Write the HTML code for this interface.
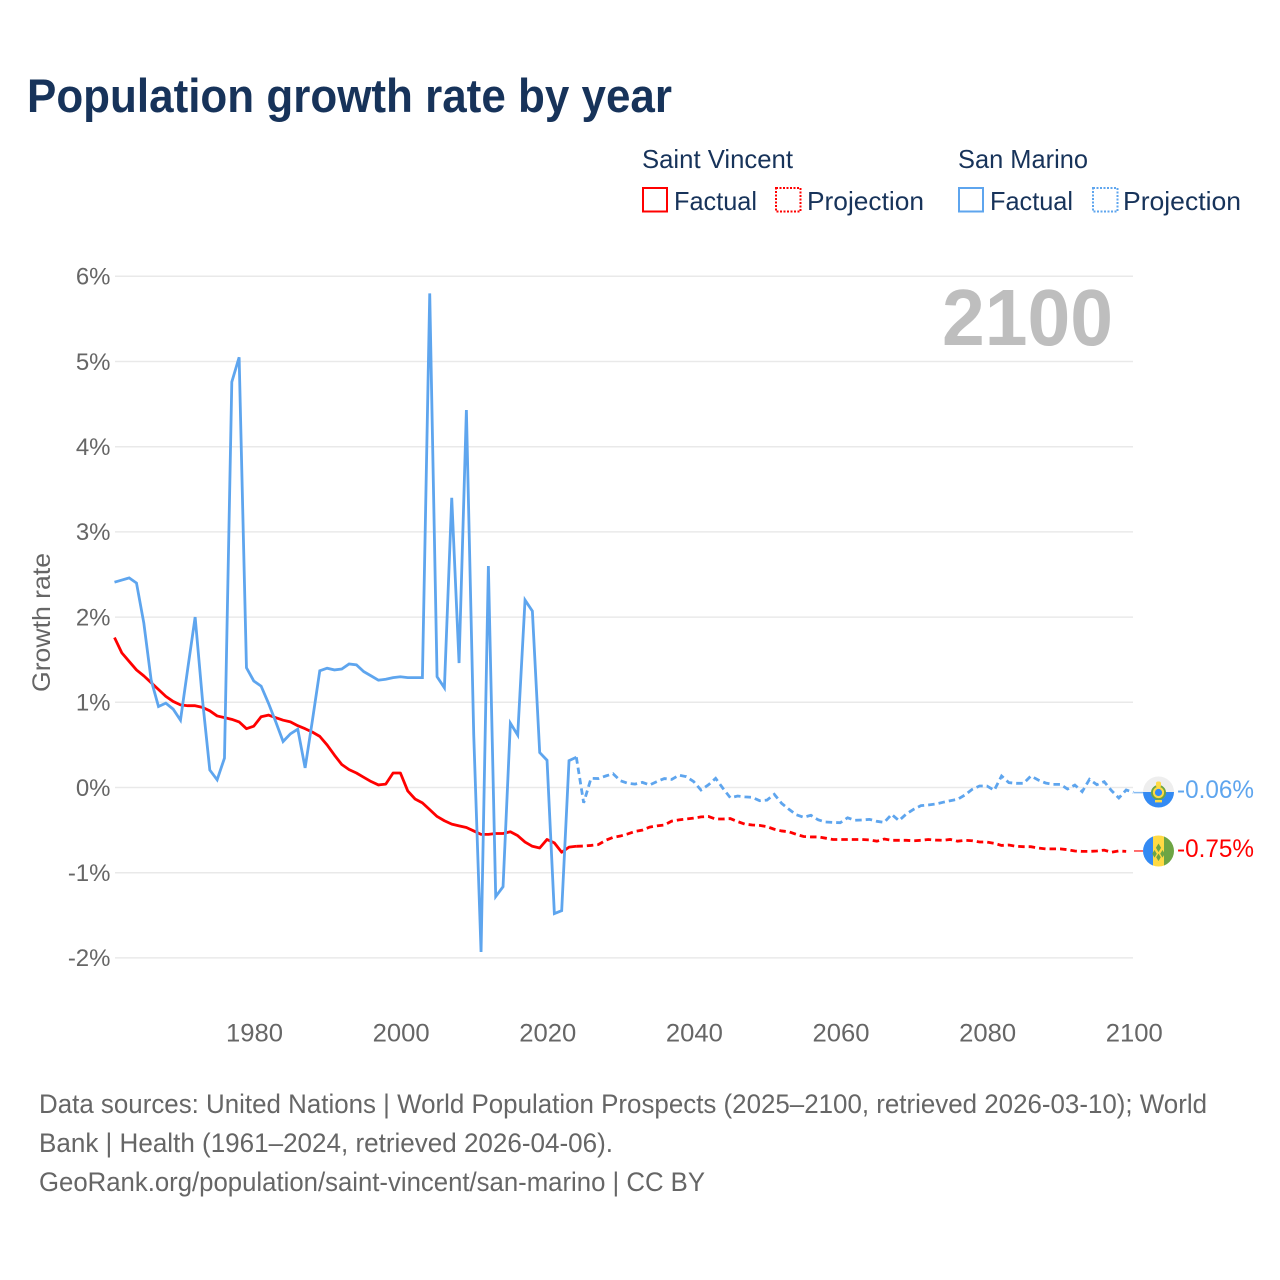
<!DOCTYPE html>
<html>
<head>
<meta charset="utf-8">
<title>Population growth rate by year</title>
<style>
html,body{margin:0;padding:0;background:#fff;width:1280px;height:1280px;overflow:hidden}
svg{display:block}
text{font-family:"Liberation Sans",sans-serif}
</style>
</head>
<body>
<svg id="chart" width="1280" height="1280" viewBox="0 0 1280 1280" xmlns="http://www.w3.org/2000/svg">
  <text x="27" y="112" font-size="47" font-weight="700" fill="#17335a" textLength="645" lengthAdjust="spacingAndGlyphs">Population growth rate by year</text>

  <g fill="#17335a" font-size="26">
    <text x="642" y="168" textLength="151" lengthAdjust="spacingAndGlyphs">Saint Vincent</text>
    <rect x="643" y="188" width="24" height="23.5" fill="none" stroke="#ff0000" stroke-width="2"/>
    <text x="674" y="210" textLength="83" lengthAdjust="spacingAndGlyphs">Factual</text>
    <rect x="776" y="188" width="24.5" height="23.5" fill="none" stroke="#ff0000" stroke-width="2" stroke-dasharray="2 1.5"/>
    <text x="807" y="210" textLength="117" lengthAdjust="spacingAndGlyphs">Projection</text>
    <text x="958" y="168" textLength="130" lengthAdjust="spacingAndGlyphs">San Marino</text>
    <rect x="959" y="188" width="24" height="23.5" fill="none" stroke="#5ea5ee" stroke-width="2"/>
    <text x="990" y="210" textLength="83" lengthAdjust="spacingAndGlyphs">Factual</text>
    <rect x="1093" y="188" width="24.5" height="23.5" fill="none" stroke="#5ea5ee" stroke-width="2" stroke-dasharray="2 1.5"/>
    <text x="1123" y="210" textLength="118" lengthAdjust="spacingAndGlyphs">Projection</text>
  </g>

  <g id="grid"></g>
  <g id="yticks" fill="#666" font-size="24"></g>
  <g id="xticks" fill="#666" font-size="25"></g>
  <text transform="translate(50,692) rotate(-90)" font-size="25" fill="#666" textLength="139" lengthAdjust="spacingAndGlyphs">Growth rate</text>
  <text x="942" y="345" font-size="80" font-weight="700" fill="#bebebe" textLength="171" lengthAdjust="spacingAndGlyphs">2100</text>

  <g id="series"></g>
  <g id="ends"></g>

  <defs>
    <clipPath id="flag-sm-clip"><circle cx="1158.5" cy="792" r="15.5"/></clipPath>
    <clipPath id="flag-vc-clip"><circle cx="1158.5" cy="851" r="15.5"/></clipPath>
  </defs>
  <g id="flag-sm" clip-path="url(#flag-sm-clip)">
    <rect x="1143" y="776" width="31" height="16" fill="#eeeeee"/>
    <rect x="1143" y="792" width="31" height="16" fill="#338af3"/>
    <circle cx="1158.5" cy="792.5" r="7.5" fill="#6da544"/>
    <circle cx="1158.5" cy="792.5" r="5.6" fill="#ffda44"/>
    <circle cx="1158.5" cy="792.5" r="3.6" fill="#338af3"/>
    <rect x="1156" y="781.5" width="5" height="6" rx="2" fill="#ffda44"/>
    <rect x="1155" y="800" width="7" height="2.4" fill="#ffda44"/>
  </g>
  <g id="flag-vc" clip-path="url(#flag-vc-clip)">
    <rect x="1143" y="835" width="10" height="32" fill="#338af3"/>
    <rect x="1153" y="835" width="11" height="32" fill="#ffda44"/>
    <rect x="1164" y="835" width="10" height="32" fill="#6da544"/>
    <path d="M1158.5 843.5l2.6 4.3-2.6 4.3-2.6-4.3z M1154.5 850l2.3 3.8-2.3 3.8-2.3-3.8z M1162.5 850l2.3 3.8-2.3 3.8-2.3-3.8z M1158.5 853.5l2.3 3.8-2.3 3.8-2.3-3.8z" fill="#6da544"/>
  </g>

  <g font-size="26.5" fill="#666">
    <text x="39" y="1113" textLength="1168" lengthAdjust="spacingAndGlyphs">Data sources: United Nations | World Population Prospects (2025–2100, retrieved 2026-03-10); World</text>
    <text x="39" y="1152" textLength="574" lengthAdjust="spacingAndGlyphs">Bank | Health (1961–2024, retrieved 2026-04-06).</text>
    <text x="39" y="1191" textLength="666" lengthAdjust="spacingAndGlyphs">GeoRank.org/population/saint-vincent/san-marino | CC BY</text>
  </g>
</svg>
<script>
var yTickValues = [6, 5, 4, 3, 2, 1, 0, -1, -2];
var xTickYears = [1980, 2000, 2020, 2040, 2060, 2080, 2100];
var firstFactualYear = 1961;
var firstProjectionYear = 2024;

var saintVincentFactual = [1.76,1.58,1.48,1.38,1.31,1.23,1.15,1.07,1.01,0.97,0.96,0.96,0.94,0.90,0.84,0.82,0.80,0.77,0.69,0.72,0.83,0.85,0.82,0.79,0.77,0.725,0.69,0.65,0.60,0.50,0.38,0.27,0.21,0.17,0.12,0.07,0.03,0.04,0.17,0.17,-0.04,-0.135,-0.18,-0.26,-0.34,-0.39,-0.43,-0.45,-0.47,-0.51,-0.55,-0.55,-0.54,-0.54,-0.52,-0.565,-0.64,-0.69,-0.71,-0.61,-0.65,-0.76,-0.70,-0.69];
var saintVincentProjection = [-0.69,-0.687,-0.68,-0.67,-0.62,-0.585,-0.57,-0.545,-0.515,-0.50,-0.465,-0.45,-0.44,-0.395,-0.38,-0.37,-0.36,-0.345,-0.34,-0.37,-0.37,-0.365,-0.40,-0.43,-0.44,-0.445,-0.46,-0.49,-0.51,-0.52,-0.55,-0.575,-0.58,-0.58,-0.595,-0.61,-0.61,-0.61,-0.61,-0.61,-0.615,-0.63,-0.605,-0.62,-0.62,-0.62,-0.625,-0.62,-0.61,-0.617,-0.62,-0.61,-0.63,-0.62,-0.625,-0.64,-0.64,-0.655,-0.68,-0.675,-0.69,-0.695,-0.695,-0.71,-0.72,-0.72,-0.72,-0.73,-0.745,-0.75,-0.75,-0.745,-0.735,-0.76,-0.745,-0.75];
var sanMarinoFactual = [2.41,2.435,2.46,2.40,1.93,1.26,0.95,0.99,0.92,0.79,1.40,2.00,1.03,0.205,0.09,0.345,4.76,5.05,1.405,1.25,1.19,0.99,0.77,0.54,0.63,0.685,0.23,0.79,1.37,1.40,1.38,1.39,1.45,1.44,1.36,1.31,1.26,1.27,1.29,1.30,1.29,1.29,1.29,5.80,1.30,1.17,3.40,1.46,4.43,0.62,-1.93,2.60,-1.28,-1.165,0.755,0.615,2.20,2.07,0.41,0.32,-1.48,-1.445,0.315,0.355];
var sanMarinoProjection = [0.355,-0.18,0.108,0.105,0.135,0.162,0.08,0.05,0.04,0.06,0.03,0.07,0.105,0.095,0.145,0.127,0.07,-0.03,0.03,0.107,-0.01,-0.12,-0.10,-0.11,-0.116,-0.155,-0.148,-0.08,-0.186,-0.256,-0.32,-0.35,-0.326,-0.38,-0.405,-0.41,-0.413,-0.355,-0.385,-0.381,-0.374,-0.397,-0.409,-0.315,-0.389,-0.311,-0.256,-0.213,-0.205,-0.194,-0.174,-0.155,-0.139,-0.088,-0.021,0.018,0.018,-0.033,0.135,0.057,0.049,0.049,0.135,0.088,0.053,0.037,0.037,-0.018,0.029,-0.049,0.096,0.033,0.068,-0.037,-0.123,-0.029,-0.057];

var saintVincentEndLabel = "-0.75%";
var sanMarinoEndLabel = "-0.06%";
var saintVincentEndValue = -0.745;
var sanMarinoEndValue = -0.06;

var SVGNS = "http://www.w3.org/2000/svg";
function xScale(year) { return 114.5 + (year - 1961) * 7.331; }
function yScale(value) { return 787.5 - value * 85.2; }
function make(tag, parent, attrs) {
  var el = document.createElementNS(SVGNS, tag);
  for (var k in attrs) el.setAttribute(k, attrs[k]);
  parent.appendChild(el);
  return el;
}
function linePoints(values, startYear) {
  return values.map(function (v, i) {
    return xScale(startYear + i).toFixed(2) + "," + yScale(v).toFixed(2);
  }).join(" ");
}

var gridG = document.getElementById("grid");
var yG = document.getElementById("yticks");
var xG = document.getElementById("xticks");
var seriesG = document.getElementById("series");
var endsG = document.getElementById("ends");

yTickValues.forEach(function (v) {
  var line = make("line", gridG, {x1: 115, x2: 1133, y1: yScale(v), y2: yScale(v), stroke: "#e9e9e9", "stroke-width": 1.5});
  
  
  var t = make("text", yG, {x: 110.5, y: yScale(v) + 8.3, "text-anchor": "end"});
  
  
  t.textContent = v + "%";
});

xTickYears.forEach(function (yr) {
  var t = make("text", xG, {x: xScale(yr) + 0.7, y: 1041.5, "text-anchor": "middle", textLength: 57, lengthAdjust: "spacingAndGlyphs"});
  
  
  t.textContent = yr;
});

var lineSf = make("polyline", seriesG, {points: linePoints(saintVincentFactual, firstFactualYear), fill: "none", stroke: "#ff0000", "stroke-width": 2.8, "stroke-linejoin": "round"});


var lineSp = make("polyline", seriesG, {points: linePoints(saintVincentProjection, firstProjectionYear), fill: "none", stroke: "#ff0000", "stroke-width": 2.8, "stroke-dasharray": "6.5 4"});


var lineMf = make("polyline", seriesG, {points: linePoints(sanMarinoFactual, firstFactualYear), fill: "none", stroke: "#5ea5ee", "stroke-width": 2.8, "stroke-linejoin": "miter"});


var lineMp = make("polyline", seriesG, {points: linePoints(sanMarinoProjection, firstProjectionYear), fill: "none", stroke: "#5ea5ee", "stroke-width": 2.8, "stroke-dasharray": "6.5 4"});



var leadM = make("line", endsG, {x1: 1134, x2: 1143, y1: yScale(sanMarinoEndValue), y2: yScale(sanMarinoEndValue), stroke: "#5ea5ee", "stroke-width": 1.5, opacity: 0.75});


var leadS = make("line", endsG, {x1: 1134, x2: 1143, y1: yScale(saintVincentEndValue), y2: yScale(saintVincentEndValue), stroke: "#ff0000", "stroke-width": 1.5, opacity: 0.75});


var endM = make("text", endsG, {x: 1177, y: 798, fill: "#5ea5ee", "font-size": 25, textLength: 77, lengthAdjust: "spacingAndGlyphs"});


endM.textContent = sanMarinoEndLabel;
var endS = make("text", endsG, {x: 1177, y: 857, fill: "#ff0000", "font-size": 25, textLength: 77, lengthAdjust: "spacingAndGlyphs"});


endS.textContent = saintVincentEndLabel;
</script>
</body>
</html>
